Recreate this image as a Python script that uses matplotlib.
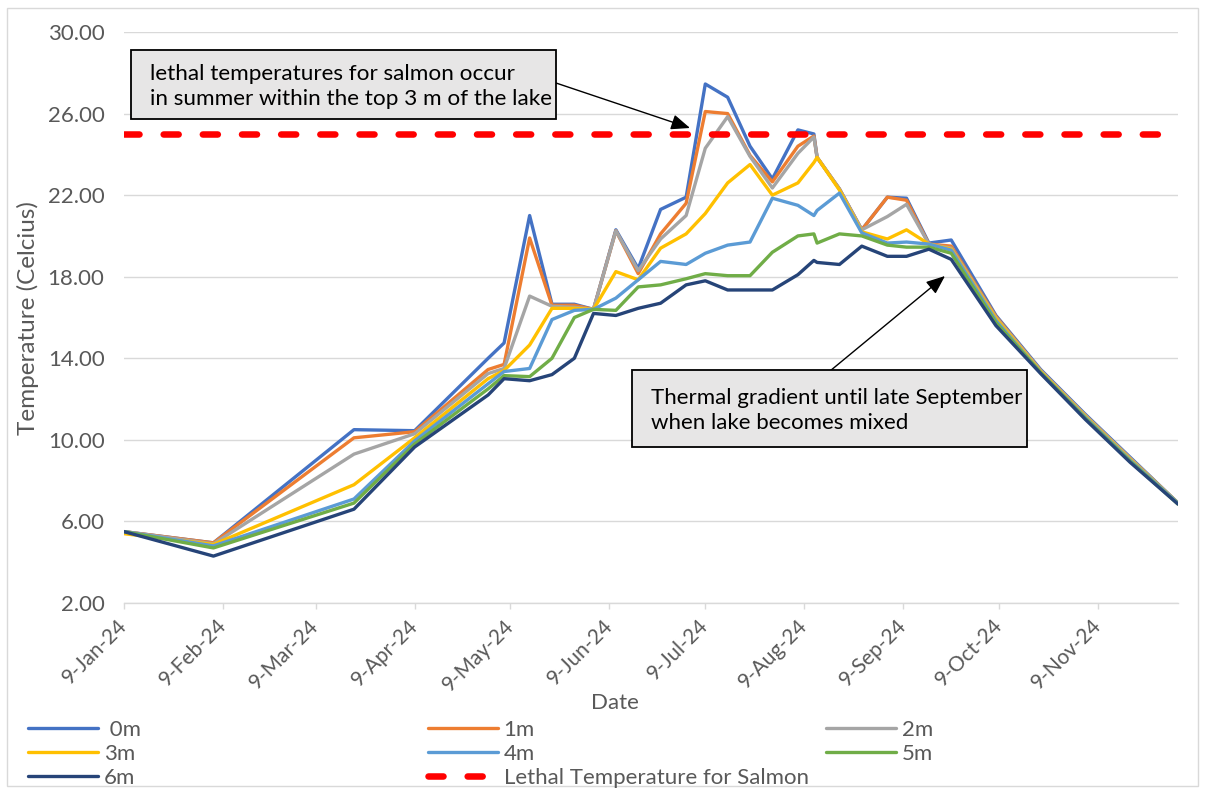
import datetime as dt
import matplotlib
matplotlib.use("Agg")
import matplotlib.pyplot as plt
from matplotlib.patches import Rectangle, FancyArrowPatch

# ---------------- data ----------------
DATES = ["2024-01-09", "2024-02-06", "2024-03-21", "2024-04-09", "2024-05-02",
         "2024-05-07", "2024-05-15", "2024-05-22", "2024-05-29", "2024-06-04",
         "2024-06-11", "2024-06-18", "2024-06-25", "2024-07-03", "2024-07-09",
         "2024-07-16", "2024-07-23", "2024-07-30", "2024-08-07", "2024-08-12",
         "2024-08-13", "2024-08-20", "2024-08-27", "2024-09-04", "2024-09-10",
         "2024-09-17", "2024-09-24", "2024-10-08", "2024-10-22", "2024-11-05",
         "2024-11-19", "2024-12-04"]

T_0M = [5.5, 4.95, 10.5, 10.45, 14.0, 14.75, 21.0, 16.65, 16.65, 16.4, 20.3, 18.4,
        21.3, 21.9, 27.45, 26.8, 24.4, 22.8, 25.2, 25.0, 23.85, 22.3, 20.3, 21.9,
        21.85, 19.65, 19.8, 16.1, 13.45, 11.25, 9.15, 6.9]
T_1M = [5.5, 4.95, 10.1, 10.4, 13.45, 13.7, 19.9, 16.6, 16.6, 16.4, 20.25, 18.15,
        20.1, 21.6, 26.1, 26.0, 23.95, 22.65, 24.4, 24.9, 23.85, 22.3, 20.3, 21.9,
        21.75, 19.6, 19.5, 16.05, 13.4, 11.2, 9.1, 6.9]
T_2M = [5.5, 4.9, 9.3, 10.3, 13.25, 13.5, 17.05, 16.55, 16.5, 16.4, 20.25, 18.3,
        19.85, 21.0, 24.3, 25.85, 23.9, 22.35, 24.05, 24.85, 23.85, 22.3, 20.3, 20.95,
        21.55, 19.6, 19.4, 16.0, 13.4, 11.2, 9.1, 6.9]
T_3M = [5.4, 4.87, 7.8, 10.1, 13.0, 13.4, 14.65, 16.45, 16.45, 16.4, 18.25, 17.85,
        19.4, 20.1, 21.1, 22.6, 23.5, 22.0, 22.6, 23.6, 23.85, 22.25, 20.2, 19.85,
        20.3, 19.6, 19.35, 15.95, 13.35, 11.15, 9.05, 6.9]
T_4M = [5.5, 4.8, 7.1, 9.95, 12.75, 13.35, 13.5, 15.9, 16.35, 16.4, 16.95, 17.85,
        18.75, 18.6, 19.15, 19.55, 19.7, 21.85, 21.5, 21.0, 21.25, 22.1, 20.15, 19.65,
        19.7, 19.6, 19.3, 15.85, 13.3, 11.1, 9.0, 6.9]
T_5M = [5.5, 4.7, 6.9, 9.8, 12.5, 13.15, 13.1, 14.0, 16.0, 16.4, 16.35, 17.5,
        17.6, 17.9, 18.15, 18.05, 18.05, 19.2, 20.0, 20.1, 19.65, 20.1, 20.0, 19.55,
        19.45, 19.45, 19.15, 15.75, 13.3, 11.05, 8.95, 6.85]
T_6M = [5.5, 4.3, 6.6, 9.65, 12.2, 13.0, 12.9, 13.2, 14.0, 16.2, 16.1, 16.45,
        16.7, 17.6, 17.8, 17.35, 17.35, 17.35, 18.1, 18.8, 18.7, 18.6, 19.5, 19.0,
        19.0, 19.35, 18.85, 15.6, 13.25, 11.0, 8.9, 6.85]
SERIES_LABELS = [" 0m", "1m", "2m", "3m", "4m", "5m", "6m"]
LETHAL_TEMP = 25.0
LETHAL_LABEL = "Lethal Temperature for Salmon"

TICK_DATES = ["2024-01-09", "2024-02-09", "2024-03-09", "2024-04-09", "2024-05-09",
              "2024-06-09", "2024-07-09", "2024-08-09", "2024-09-09", "2024-10-09",
              "2024-11-09"]
TICK_LABELS = ["9-Jan-24", "9-Feb-24", "9-Mar-24", "9-Apr-24", "9-May-24", "9-Jun-24",
               "9-Jul-24", "9-Aug-24", "9-Sep-24", "9-Oct-24", "9-Nov-24"]
Y_TICKS = [2, 6, 10, 14, 18, 22, 26, 30]
X_TITLE = "Date"
Y_TITLE = "Temperature (Celcius)"
NOTE_TOP = ["lethal temperatures for salmon occur", "in summer within the top 3 m of the lake"]
NOTE_BOTTOM = ["Thermal gradient until late September", "when lake becomes mixed"]

# ---------------- style ----------------
COLORS = ["#4472C4", "#ED7D31", "#A5A5A5", "#FFC000", "#5B9BD5", "#70AD47", "#264478"]
RED = "#FF0000"
GRID = "#D9D9D9"
TXT = "#595959"
FS = 16

plt.rcParams["font.family"] = ["Lato", "DejaVu Sans"]

W, H, DPI = 1206, 793, 100
fig = plt.figure(figsize=(W / DPI, H / DPI), dpi=DPI)


def fx(x):
    return x / W


def fy(y):
    return 1 - y / H


ax = fig.add_axes([fx(124), fy(603), fx(1178) - fx(124), fy(32) - fy(603)])

dates = [dt.datetime.strptime(s, "%Y-%m-%d") for s in DATES]
series = [T_0M, T_1M, T_2M, T_3M, T_4M, T_5M, T_6M]
handles = []
for vals, col, lab in zip(series, COLORS, SERIES_LABELS):
    h, = ax.plot(dates, vals, color=col, lw=2.4, label=lab,
                 solid_joinstyle="round", solid_capstyle="round", zorder=3)
    handles.append(h)
hl, = ax.plot(dates, [LETHAL_TEMP] * len(dates), color=RED, lw=4.7,
              linestyle=(0, (2.3, 3.7)), dash_capstyle="round", label=LETHAL_LABEL, zorder=4)
handles.append(hl)

ax.set_xlim(dates[0], dates[-1])
ax.set_ylim(Y_TICKS[0], Y_TICKS[-1])
ax.set_yticks(Y_TICKS)
ax.set_yticklabels([f"{v:.2f}" for v in Y_TICKS])
tick_d = [dt.datetime.strptime(s, "%Y-%m-%d") for s in TICK_DATES]
ax.set_xticks(tick_d)
ax.set_xticklabels(TICK_LABELS, rotation=45, ha="right", rotation_mode="anchor", va="center")

ax.grid(axis="y", color=GRID, lw=1.0, zorder=0)
ax.set_axisbelow(True)
for s in ("top", "right", "left"):
    ax.spines[s].set_visible(False)
ax.spines["bottom"].set_color(GRID)
ax.spines["bottom"].set_linewidth(1.0)
ax.tick_params(axis="y", length=0, pad=14, labelsize=FS, labelcolor=TXT)
ax.tick_params(axis="x", length=4, width=1, color=GRID, pad=10, labelsize=15, labelcolor=TXT)

fig.text(fx(615), fy(703), X_TITLE, ha="center", va="center", fontsize=FS, color=TXT)
fig.text(fx(28), fy(318), Y_TITLE, ha="center", va="center", rotation=90, fontsize=17.5, color=TXT)


# annotation boxes
def note(x0, y0, x1, y1, tx, lines, spacing, size):
    fig.patches.append(Rectangle((fx(x0), fy(y1)), fx(x1) - fx(x0), fy(y0) - fy(y1),
                                 transform=fig.transFigure, facecolor="#E7E6E6",
                                 edgecolor="black", lw=1.3, zorder=5))
    fig.text(fx(tx), fy((y0 + y1) / 2 + 2), "\n".join(lines), ha="left", va="center",
             fontsize=size, color="black", linespacing=spacing, zorder=6)


note(131, 50, 556, 119, 150, NOTE_TOP, 1.36, 16.2)
note(632, 370, 1027, 447, 651, NOTE_BOTTOM, 1.27, 16.0)

arrow = dict(arrowstyle="-|>,head_length=1.15,head_width=0.47", color="black",
             lw=1.0, mutation_scale=10, shrinkA=0, shrinkB=0)
fig.add_artist(FancyArrowPatch((fx(556), fy(83)), (fx(690), fy(128)),
                               transform=fig.transFigure, **arrow))
fig.add_artist(FancyArrowPatch((fx(830), fy(371)), (fx(945), fy(276)),
                               transform=fig.transFigure, **arrow))

# legend: three columns placed like Excel's
cols = [[0, 3, 6], [1, 4, 7], [2, 5]]
col_x = [28, 428, 826]
for idxs, cx in zip(cols, col_x):
    fig.legend([handles[i] for i in idxs], [handles[i].get_label() for i in idxs],
               loc="upper left", bbox_to_anchor=(fx(cx), fy(720)), frameon=False,
               borderpad=0, borderaxespad=0, handlelength=3.15, handletextpad=0.25,
               labelspacing=0.18, fontsize=FS, labelcolor=TXT)

# outer chart border
fig.patches.append(Rectangle((fx(7), fy(786)), fx(1198) - fx(7), fy(8) - fy(786),
                             transform=fig.transFigure, facecolor="none", edgecolor=GRID, lw=1.0))

fig.savefig("out.png", dpi=DPI)
